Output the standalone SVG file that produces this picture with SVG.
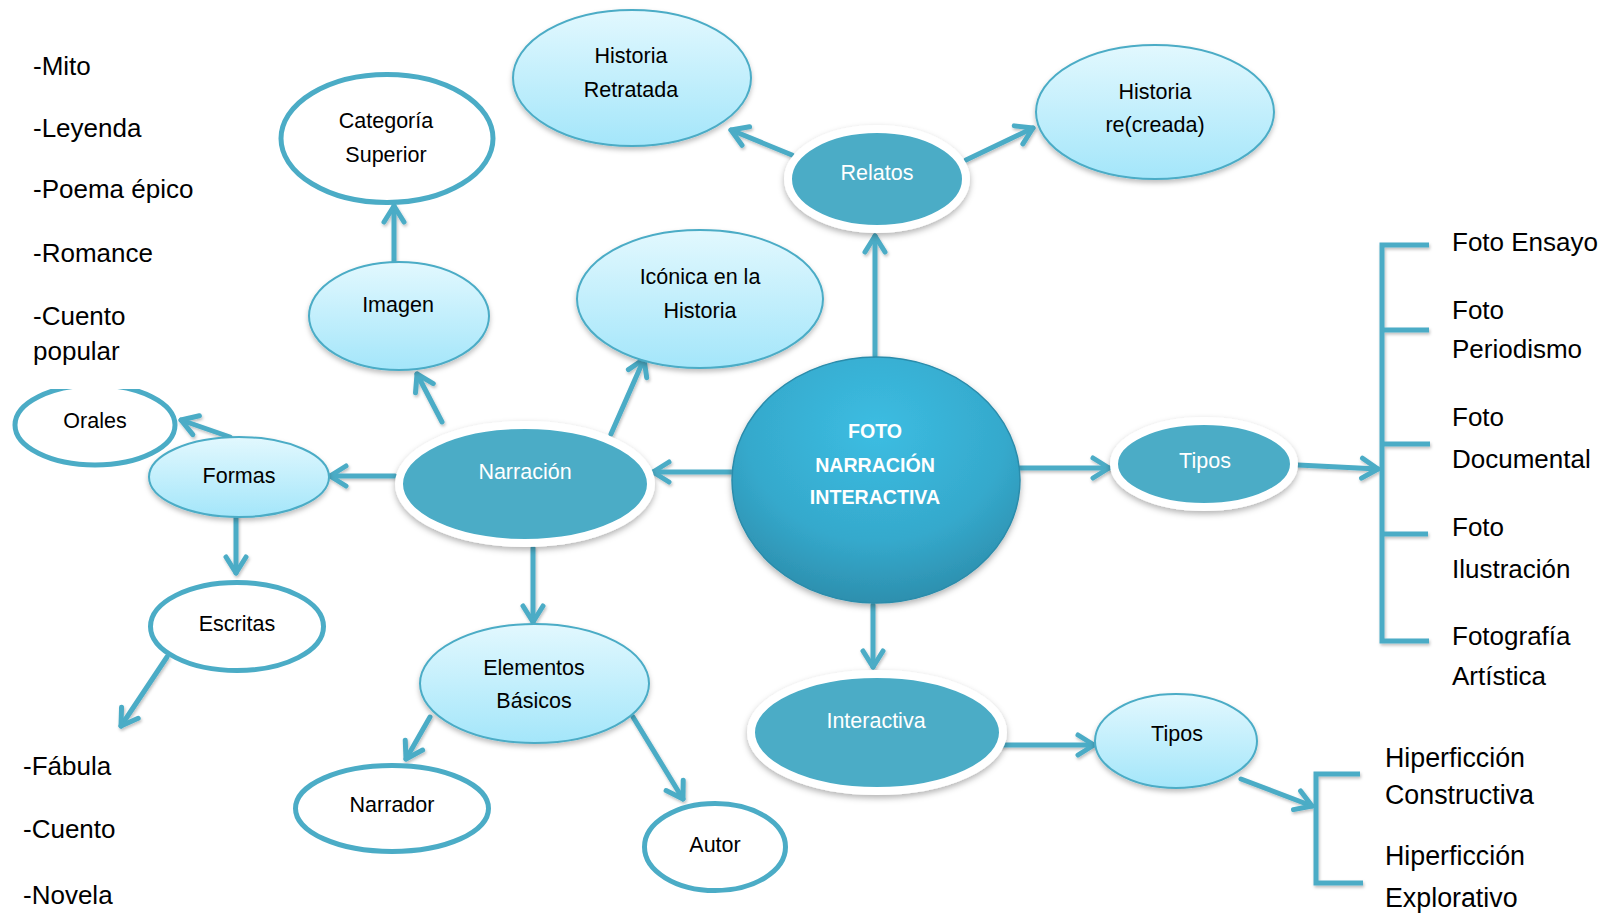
<svg xmlns="http://www.w3.org/2000/svg" width="1602" height="913" viewBox="0 0 1602 913">
<defs>
<linearGradient id="gLight" x1="0" y1="0" x2="0" y2="1">
<stop offset="0" stop-color="#e2f8fe"/>
<stop offset="1" stop-color="#a4e6fa"/>
</linearGradient>
<radialGradient id="gCentral" cx="0.5" cy="0.3" r="0.75">
<stop offset="0" stop-color="#3cbde2"/>
<stop offset="0.6" stop-color="#35a9cc"/>
<stop offset="1" stop-color="#2b8aa8"/>
</radialGradient>
<filter id="sh" x="-20%" y="-20%" width="140%" height="150%">
<feDropShadow dx="0" dy="3" stdDeviation="2.5" flood-color="#000" flood-opacity="0.25"/>
</filter>
<filter id="sh2" x="-20%" y="-20%" width="140%" height="150%">
<feDropShadow dx="0" dy="3" stdDeviation="3" flood-color="#000" flood-opacity="0.3"/>
</filter>
<filter id="shc" x="-20%" y="-20%" width="140%" height="140%">
<feDropShadow dx="1" dy="2" stdDeviation="1.5" flood-color="#000" flood-opacity="0.25"/>
</filter>
<marker id="ah" markerUnits="userSpaceOnUse" orient="auto" markerWidth="30" markerHeight="30" viewBox="-22 -15 30 30" refX="0" refY="0" overflow="visible">
<path d="M-16,-10 L0,0 L-16,10" fill="none" stroke="#4bacc6" stroke-width="5" stroke-linecap="round" stroke-linejoin="round"/>
</marker>
<clipPath id="clipOrales"><rect x="0" y="389" width="300" height="200"/></clipPath>
<style>
.lb{fill:url(#gLight);stroke:#4bacc6;stroke-width:2;filter:url(#sh)}
.wt{fill:#fff;stroke:#4bacc6;stroke-width:5}
.tl{fill:#4bacc6;stroke:#fff;stroke-width:8;filter:url(#sh2)}
.t{font-family:"Liberation Sans",Arial,sans-serif;font-size:21.5px;fill:#000;text-anchor:middle}
.tw{fill:#fff}
.tb{font-weight:bold;font-size:19.6px;fill:#fff}
.big{font-family:"Liberation Sans",Arial,sans-serif;font-size:26px;fill:#000}
.conn{stroke:#4bacc6;stroke-width:5;fill:none;marker-end:url(#ah);stroke-linecap:round}
.br{stroke:#4bacc6;stroke-width:5;fill:none}
</style>
</defs>
<rect width="1602" height="913" fill="#fff"/>

<g id="connectors" filter="url(#shc)">
<line class="conn" x1="875" y1="356" x2="875" y2="236"/>
<line class="conn" x1="792" y1="155" x2="731" y2="130"/>
<line class="conn" x1="966" y1="160" x2="1033" y2="128"/>
<line class="conn" x1="732" y1="472" x2="653" y2="472"/>
<line class="conn" x1="442" y1="422" x2="417" y2="374"/>
<line class="conn" x1="611" y1="434" x2="644" y2="359"/>
<line class="conn" x1="395" y1="476" x2="330" y2="476"/>
<line class="conn" x1="533" y1="548" x2="533" y2="622"/>
<line class="conn" x1="394" y1="262" x2="394" y2="206"/>
<line class="conn" x1="230" y1="437" x2="181" y2="420"/>
<line class="conn" x1="236" y1="516" x2="236" y2="573"/>
<line class="conn" x1="167" y1="657" x2="121" y2="726"/>
<line class="conn" x1="430" y1="717" x2="406" y2="759"/>
<line class="conn" x1="633" y1="717" x2="683" y2="799"/>
<line class="conn" x1="1020" y1="468" x2="1109" y2="468"/>
<line class="conn" x1="1298" y1="465" x2="1378" y2="469"/>
<line class="conn" x1="873" y1="605" x2="873" y2="667"/>
<line class="conn" x1="1000" y1="745" x2="1094" y2="745"/>
<line class="conn" x1="1241" y1="779" x2="1312" y2="806"/>
<path class="br" d="M1429,245 H1382 V641 H1429 M1382,330 H1429 M1382,444 H1430 M1382,534 H1428"/>
<path class="br" d="M1360,774 H1316 V883 H1363"/>
</g>

<g id="n-central">
<ellipse cx="876" cy="480" rx="144" ry="123" fill="url(#gCentral)" stroke="#2b8cab" stroke-width="1.5" filter="url(#sh2)"/>
<text class="t tb" x="875" y="438">FOTO</text>
<text class="t tb" x="875" y="472">NARRACIÓN</text>
<text class="t tb" x="875" y="504">INTERACTIVA</text>
</g>

<g id="n-relatos">
<ellipse class="tl" cx="877" cy="179" rx="89" ry="50"/>
<text class="t tw" x="877" y="180">Relatos</text>
</g>

<g id="n-hist-retratada">
<ellipse class="lb" cx="632" cy="78" rx="119" ry="68"/>
<text class="t" x="631" y="63">Historia</text>
<text class="t" x="631" y="97">Retratada</text>
</g>

<g id="n-hist-recreada">
<ellipse class="lb" cx="1155" cy="112" rx="119" ry="67"/>
<text class="t" x="1155" y="99">Historia</text>
<text class="t" x="1155" y="132">re(creada)</text>
</g>

<g id="n-iconica">
<ellipse class="lb" cx="700" cy="299" rx="123" ry="69"/>
<text class="t" x="700" y="284">Icónica en la</text>
<text class="t" x="700" y="318">Historia</text>
</g>

<g id="n-categoria">
<ellipse class="wt" cx="387" cy="138.5" rx="106" ry="64"/>
<text class="t" x="386" y="128">Categoría</text>
<text class="t" x="386" y="162">Superior</text>
</g>

<g id="n-imagen">
<ellipse class="lb" cx="399" cy="316" rx="90" ry="54"/>
<text class="t" x="398" y="312">Imagen</text>
</g>

<g id="n-narracion">
<ellipse class="tl" cx="525" cy="484" rx="126" ry="59"/>
<text class="t tw" x="525" y="479">Narración</text>
</g>

<g id="n-formas">
<ellipse class="lb" cx="239" cy="477" rx="90" ry="40"/>
<text class="t" x="239" y="483">Formas</text>
</g>

<g id="n-orales">
<ellipse class="wt" cx="95" cy="425" rx="80" ry="40" clip-path="url(#clipOrales)"/>
<text class="t" x="95" y="428">Orales</text>
</g>

<g id="n-escritas">
<ellipse class="wt" cx="237" cy="626.5" rx="86.5" ry="44"/>
<text class="t" x="237" y="631">Escritas</text>
</g>

<g id="n-elementos">
<ellipse class="lb" cx="534.5" cy="683.5" rx="114.5" ry="59.5"/>
<text class="t" x="534" y="675">Elementos</text>
<text class="t" x="534" y="708">Básicos</text>
</g>

<g id="n-narrador">
<ellipse class="wt" cx="392" cy="808.5" rx="96.5" ry="43"/>
<text class="t" x="392" y="812">Narrador</text>
</g>

<g id="n-autor">
<ellipse class="wt" cx="715" cy="847" rx="70.5" ry="43.5"/>
<text class="t" x="715" y="852">Autor</text>
</g>

<g id="n-tipos1">
<ellipse class="tl" cx="1204" cy="464" rx="90" ry="43"/>
<text class="t tw" x="1205" y="468">Tipos</text>
</g>

<g id="n-interactiva">
<ellipse class="tl" cx="877" cy="732.5" rx="126" ry="58.5"/>
<text class="t tw" x="876" y="728">Interactiva</text>
</g>

<g id="n-tipos2">
<ellipse class="lb" cx="1176" cy="741" rx="81" ry="47"/>
<text class="t" x="1177" y="741">Tipos</text>
</g>

<g id="list-orales">
<text class="big" x="33" y="75">-Mito</text>
<text class="big" x="33" y="137">-Leyenda</text>
<text class="big" x="33" y="198">-Poema épico</text>
<text class="big" x="33" y="262">-Romance</text>
<text class="big" x="33" y="325">-Cuento</text>
<text class="big" x="33" y="360">popular</text>
</g>

<g id="list-escritas">
<text class="big" x="23" y="775">-Fábula</text>
<text class="big" x="23" y="838">-Cuento</text>
<text class="big" x="23" y="904">-Novela</text>
</g>

<g id="list-tipos-foto">
<text class="big" x="1452" y="251" font-size="26.5">Foto Ensayo</text>
<text class="big" x="1452" y="319" font-size="26.5">Foto</text>
<text class="big" x="1452" y="358" font-size="26.5">Periodismo</text>
<text class="big" x="1452" y="426" font-size="26.5">Foto</text>
<text class="big" x="1452" y="468" font-size="26.5">Documental</text>
<text class="big" x="1452" y="536" font-size="26.5">Foto</text>
<text class="big" x="1452" y="578" font-size="26.5">Ilustración</text>
<text class="big" x="1452" y="645" font-size="26.5">Fotografía</text>
<text class="big" x="1452" y="685" font-size="26.5">Artística</text>
</g>

<g id="list-tipos-hiper">
<text class="big" x="1385" y="767" style="font-size:26.8px">Hiperficción</text>
<text class="big" x="1385" y="804" style="font-size:26.8px">Constructiva</text>
<text class="big" x="1385" y="865" style="font-size:26.8px">Hiperficción</text>
<text class="big" x="1385" y="907" style="font-size:26.8px">Explorativo</text>
</g>
</svg>
